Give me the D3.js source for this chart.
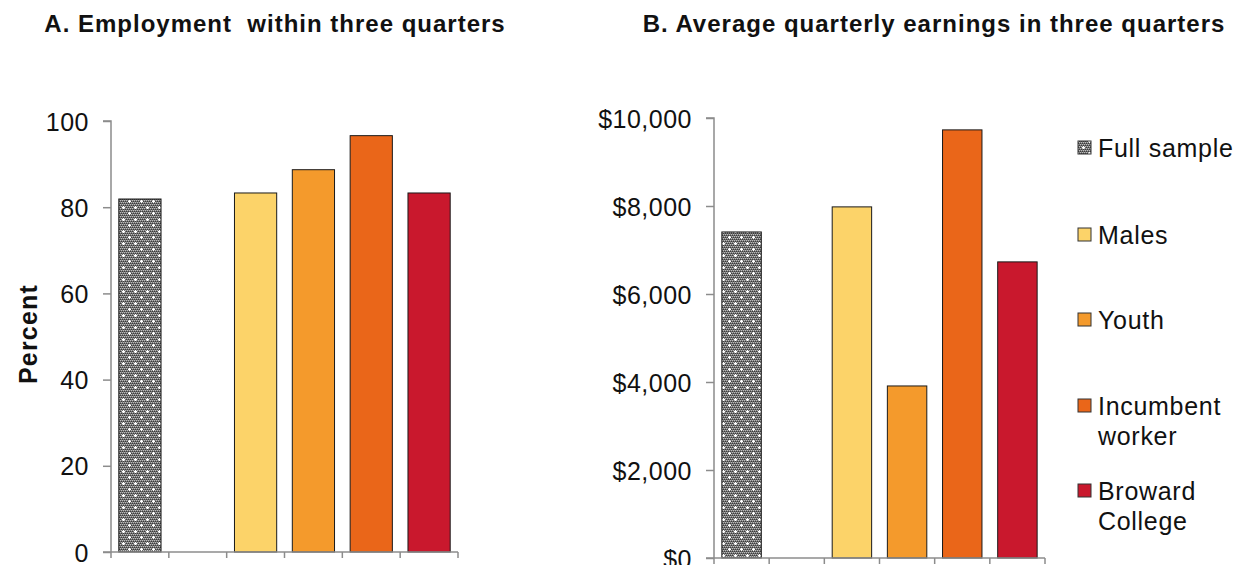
<!DOCTYPE html>
<html>
<head>
<meta charset="utf-8">
<script src="https://cdn.jsdelivr.net/npm/d3@7"></script>
<style>
  html, body { margin: 0; padding: 0; background: #fff; }
  svg { display: block; font-family: "Liberation Sans", Arial, sans-serif; }
</style>
</head>
<body>
<svg id="chart" width="1238" height="565"></svg>
<script>
// Group slots along the x axis (the second slot is left empty)
const slots = ["Full sample", "gap", "Males", "Youth", "Incumbent worker", "Broward College"];
const groups = ["Full sample", "Males", "Youth", "Incumbent worker", "Broward College"];
const legendLines = [["Full sample"], ["Males"], ["Youth"], ["Incumbent", "worker"], ["Broward", "College"]];
const colors = ["url(#hatch)", "#FCD369", "#F49A2C", "#EA6619", "#C9182D"];

// Panel A: employment within three quarters (percent)
const employment = [81.9, 83.3, 88.7, 96.6, 83.3];
const employmentTicks = [0, 20, 40, 60, 80, 100];

// Panel B: average quarterly earnings in three quarters (dollars)
const earnings = [7410, 7980, 3910, 9730, 6730];
const earningsTicks = [0, 2000, 4000, 6000, 8000, 10000];

const titles = ["A. Employment\u00A0 within three quarters", "B. Average quarterly earnings in three quarters"];

const svg = d3.select("#chart");
const defs = svg.append("defs");

// Grey dotted texture for the full-sample bar
const pat = defs.append("pattern").attr("id", "hatch")
  .attr("patternUnits", "userSpaceOnUse").attr("width", 12).attr("height", 12);
pat.append("rect").attr("width", 12).attr("height", 12).attr("fill", "#747474");
for (let i = 0; i < 12; i += 2) {
  for (let j = 0; j < 12; j += 2) {
    pat.append("rect").attr("x", i + ((j / 2) % 2)).attr("y", j).attr("width", 1).attr("height", 1).attr("fill", "#bcbcbc");
    pat.append("rect").attr("x", i + 1 - ((j / 2) % 2)).attr("y", j + 1).attr("width", 1).attr("height", 1).attr("fill", "#3c3c3c");
  }
}
[[3, 3], [9, 9]].forEach(([cx, cy]) => {
  pat.append("rect").attr("x", cx - 1).attr("y", cy).attr("width", 3).attr("height", 1).attr("fill", "#fff");
  pat.append("rect").attr("x", cx).attr("y", cy - 1).attr("width", 1).attr("height", 3).attr("fill", "#fff");
});

const axisColor = "#8c8c8c";

function panel(cfg) {
  const g = svg.append("g");
  const x = d3.scaleBand().domain(slots).range([cfg.x0, cfg.x1])
    .paddingInner(cfg.pad).paddingOuter(cfg.pad / 2);
  const y = d3.scaleLinear().domain([0, cfg.max]).range([cfg.y0, cfg.y1]);

  // Bars
  g.selectAll("rect.bar").data(groups).join("rect")
    .attr("class", "bar")
    .attr("x", d => x(d))
    .attr("width", x.bandwidth())
    .attr("y", (d, i) => y(cfg.values[i]))
    .attr("height", (d, i) => y(0) - y(cfg.values[i]))
    .attr("fill", (d, i) => colors[i])
    .attr("stroke", "#1a1a1a").attr("stroke-width", 1);

  // Y axis
  const yAxis = d3.axisLeft(y).tickValues(cfg.ticks).tickFormat(cfg.fmt)
    .tickSize(8).tickPadding(14);
  const ya = g.append("g").attr("transform", `translate(${cfg.x0},0)`).call(yAxis);
  ya.select(".domain").attr("stroke", axisColor).attr("stroke-width", 1.5).attr("d", `M-8,${cfg.y1}H0V${cfg.y0}`);
  ya.selectAll(".tick line").attr("stroke", axisColor).attr("stroke-width", 1.5);
  ya.selectAll(".tick text").attr("fill", "#111").attr("font-size", 25)
    .attr("letter-spacing", 0.5).attr("dy", "0.36em");

  // X axis with ticks at the slot boundaries
  const step = x.step();
  const bounds = d3.range(slots.length + 1).map(i => cfg.x0 + i * step);
  g.append("line").attr("x1", cfg.x0 - 8).attr("x2", cfg.x1)
    .attr("y1", y(0)).attr("y2", y(0)).attr("stroke", axisColor).attr("stroke-width", 1.5);
  g.selectAll("line.xt").data(bounds).join("line").attr("class", "xt")
    .attr("x1", d => d).attr("x2", d => d).attr("y1", y(0)).attr("y2", y(0) + 6)
    .attr("stroke", axisColor).attr("stroke-width", 1.5);

  // Title
  svg.append("text").attr("x", cfg.titleX).attr("y", 32).attr("text-anchor", "middle")
    .attr("font-weight", "bold").attr("font-size", 24).attr("letter-spacing", 1)
    .attr("fill", "#111").text(cfg.title);
}

panel({
  x0: 111, x1: 458, y0: 552, y1: 121, max: 100, pad: 0.27,
  values: employment, ticks: employmentTicks, fmt: d3.format("d"),
  title: titles[0], titleX: 275
});

panel({
  x0: 714, x1: 1045, y0: 558, y1: 118, max: 10000, pad: 0.285,
  values: earnings, ticks: earningsTicks, fmt: d => "$" + d3.format(",")(d),
  title: titles[1], titleX: 934
});

// Y axis title for panel A
svg.append("text").attr("transform", "translate(37,334) rotate(-90)")
  .attr("text-anchor", "middle").attr("font-weight", "bold").attr("font-size", 25)
  .attr("letter-spacing", 1.2).attr("fill", "#111").text("Percent");

// Legend
const legendY = [148, 235, 320, 406, 491];
const lg = svg.append("g");
legendLines.forEach((lines, i) => {
  lg.append("rect").attr("x", 1078).attr("y", legendY[i] - 7).attr("width", 13).attr("height", 13)
    .attr("fill", colors[i]).attr("stroke", "#333").attr("stroke-width", 1);
  lines.forEach((t, k) => {
    lg.append("text").attr("x", 1098).attr("y", legendY[i] + k * 30).attr("dy", "0.36em")
      .attr("font-size", 25).attr("letter-spacing", 0.7).attr("fill", "#111").text(t);
  });
});
</script>
</body>
</html>
